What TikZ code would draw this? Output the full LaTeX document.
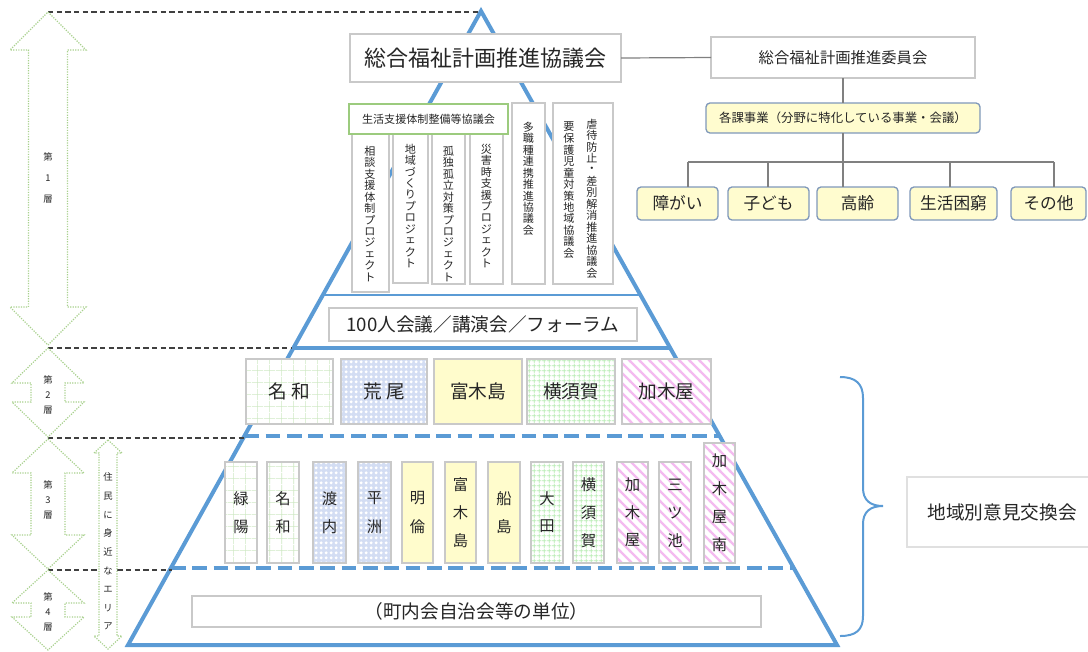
\documentclass[tikz,border=0pt]{standalone}
\usepackage{fontspec}
\setmainfont{Noto Sans CJK JP}
\usetikzlibrary{calc,patterns}
\definecolor{pblue}{HTML}{5B9BD5}
\definecolor{agreen}{HTML}{A9D18E}
\definecolor{bgray}{HTML}{C9C9C9}
\definecolor{tcol}{HTML}{262626}
\definecolor{cborder}{HTML}{7F98BA}
\definecolor{cyel}{HTML}{FFFCCF}
\definecolor{lgray}{HTML}{808080}
\definecolor{gA}{HTML}{CFE8C4}
\definecolor{gB}{HTML}{B9EDB4}
\definecolor{dotbg}{HTML}{D3DDF3}
\definecolor{pink1}{HTML}{F4BBF0}
\definecolor{yel}{HTML}{FFFCCC}
\definecolor{sgreen}{HTML}{9CCB7E}
\pgfdeclarepatternformonly{cgrid}{\pgfpointorigin}{\pgfqpoint{9pt}{9pt}}{\pgfqpoint{9pt}{9pt}}{%
  \pgfsetlinewidth{0.5pt}%
  \pgfpathmoveto{\pgfqpoint{4.5pt}{0pt}}\pgfpathlineto{\pgfqpoint{4.5pt}{9pt}}%
  \pgfpathmoveto{\pgfqpoint{0pt}{4.5pt}}\pgfpathlineto{\pgfqpoint{9pt}{4.5pt}}%
  \pgfusepath{stroke}}
\pgfdeclarepatternformonly{fgrid}{\pgfpointorigin}{\pgfqpoint{3.5pt}{3.5pt}}{\pgfqpoint{3.5pt}{3.5pt}}{%
  \pgfsetlinewidth{0.5pt}%
  \pgfpathmoveto{\pgfqpoint{1.75pt}{0pt}}\pgfpathlineto{\pgfqpoint{1.75pt}{3.5pt}}%
  \pgfpathmoveto{\pgfqpoint{0pt}{1.75pt}}\pgfpathlineto{\pgfqpoint{3.5pt}{1.75pt}}%
  \pgfusepath{stroke}}
\pgfdeclarepatternformonly{pdots}{\pgfpointorigin}{\pgfqpoint{3.8pt}{3.8pt}}{\pgfqpoint{3.8pt}{3.8pt}}{%
  \pgfpathcircle{\pgfqpoint{1.9pt}{1.9pt}}{1.45pt}\pgfusepath{fill}}
\pgfdeclarepatternformonly{pstripes}{\pgfqpoint{-1pt}{-1pt}}{\pgfqpoint{8.5pt}{8.5pt}}{\pgfqpoint{7.5pt}{7.5pt}}{%
  \pgfsetlinewidth{1.8pt}%
  \pgfpathmoveto{\pgfqpoint{-1pt}{8.5pt}}\pgfpathlineto{\pgfqpoint{8.5pt}{-1pt}}%
  \pgfusepath{stroke}}
\makeatletter
\newcommand\vt[2][1em]{\vbox{\offinterlineskip\@tfor\vt@c:=#2\do{\hbox to 1.2em{\hss\vbox to #1{\vss\hbox{\vt@c}\vss}\hss}}}}
\makeatother
\newcommand\fsz[1]{\fontsize{#1}{#1}\selectfont}
\newcommand\bx[7][]{\node[inner sep=0pt, outer sep=0pt, minimum width={(#4-#2)*0.75pt}, minimum height={(#5-#3)*0.75pt}, #1] (#6) at ({(#2+#4)/2},{(#3+#5)/2}) {#7};}
\newcommand\dbl[6]{\draw[arr] (#1,#2) -- ({#1+#5},{#2+#4}) -- ({#1+#6},{#2+#4}) -- ({#1+#6},{#3-#4}) -- ({#1+#5},{#3-#4}) -- (#1,#3) -- ({#1-#5},{#3-#4}) -- ({#1-#6},{#3-#4}) -- ({#1-#6},{#2+#4}) -- ({#1-#5},{#2+#4}) -- cycle;}
\begin{document}
\begin{tikzpicture}[x=0.75pt,y=-0.75pt,
  pyr/.style={draw=pblue, line width=3pt, line join=miter},
  arr/.style={draw=agreen, densely dotted, line width=0.9pt, fill=white},
  ldash/.style={draw=black!75, line width=0.8pt, dash pattern=on 4pt off 2.5pt},
  box/.style={draw=bgray, line width=1pt, fill=white, text=tcol},
  lbox/.style={draw=bgray, line width=1.3pt, text=tcol},
  cat/.style={draw=cborder, line width=1pt, fill=cyel, rounded corners=3pt, text=tcol},
  oline/.style={draw=lgray, line width=0.9pt},
  vtxt/.style={inner sep=0pt, text=tcol},
  pgridA/.style={preaction={fill=white}, pattern=cgrid, pattern color=gA},
  pgridB/.style={preaction={fill=white}, pattern=fgrid, pattern color=gB},
  pdot/.style={preaction={fill=dotbg}, pattern=pdots, pattern color=white},
  pstr/.style={preaction={fill=white}, pattern=pstripes, pattern color=pink1},
  pyel/.style={fill=yel}]
\useasboundingbox (0,0) rectangle (1088,651);
\clip (0,0) rectangle (1088,651);
% pyramid
\coordinate (A) at (481,11);
\coordinate (BL) at (128,645);
\coordinate (BR) at (837,645);
\draw[pyr] (A) -- (BL) -- (BR) -- cycle;
\draw[pyr, line width=1pt] ($(A)!0.448!(BL)$) -- ($(A)!0.448!(BR)$);
\draw[pyr] ($(A)!0.5315!(BL)$) -- ($(A)!0.5315!(BR)$);
\draw[pyr, dash pattern=on 11pt off 5pt] ($(A)!0.6703!(BL)$) -- ($(A)!0.6703!(BR)$);
\draw[pyr, dash pattern=on 11pt off 5pt] ($(A)!0.8785!(BL)$) -- ($(A)!0.8785!(BR)$);
% left guide lines
\draw[ldash] (48,12) -- (478,12);
\draw[ldash] (48,348) -- (292,348);
\draw[ldash] (48,438) -- (244,438);
\draw[ldash] (48,570) -- (172,570);
% layer arrows
\dbl{48}{12}{345}{38}{38}{19.5}
\dbl{48}{348}{437}{35}{36}{17}
\dbl{48}{439}{569}{34}{36}{17}
\dbl{48}{570}{650}{33}{36}{17}
\dbl{108}{440}{649}{13}{14}{9}
\node[vtxt, font=\fsz{7}] (l1) at (48,178) {\vt[16pt]{第1層}};
\node[vtxt, font=\fsz{7}] (l2) at (48,395) {\vt[11pt]{第2層}};
\node[vtxt, font=\fsz{7}] (l3) at (48,500) {\vt[11pt]{第3層}};
\node[vtxt, font=\fsz{7}] (l4) at (48,612) {\vt[11pt]{第4層}};
\node[vtxt, font=\fsz{7}] (jumin) at (108,552) {\vt[14pt]{住民に身近なエリア}};
% top boxes
\bx[box, font=\fsz{16.5}]{350}{34}{621}{82}{kyo}{総合福祉計画推進協議会}
\bx[box, font=\fsz{11.5}]{711}{37}{975}{78}{iin}{総合福祉計画推進委員会}
\bx[cat, font=\fsz{9.3}]{706}{103}{980}{133}{kaka}{各課事業（分野に特化している事業・会議）}
\bx[cat, font=\fsz{12.5}]{637}{187}{718}{220}{shogai}{障がい}
\bx[cat, font=\fsz{12.5}]{728}{187}{809}{220}{kodomo}{子ども}
\bx[cat, font=\fsz{12.5}]{817}{187}{898}{220}{korei}{高齢}
\bx[cat, font=\fsz{12.5}]{910}{187}{997}{220}{konkyu}{生活困窮}
\bx[cat, font=\fsz{12.5}]{1011}{187}{1086}{220}{sonota}{その他}
\coordinate (bus1) at (688,162);
\coordinate (bus2) at (768,162);
\coordinate (bus4) at (950,162);
\coordinate (bus5) at (1054,162);
\draw[oline] (kyo.east) -- (iin.west);
\draw[oline] (iin.south) -- (kaka.north);
\draw[oline] (kaka.south) -- (kaka.south |- korei.north);
\draw[oline] (bus1) -- (bus5);
\draw[oline] (bus1) -- (bus1 |- shogai.north);
\draw[oline] (bus2) -- (bus2 |- kodomo.north);
\draw[oline] (bus4) -- (bus4 |- konkyu.north);
\draw[oline] (bus5) -- (bus5 |- sonota.north);
% project boxes
\bx[box]{352}{134}{389}{292}{p1}{}
\bx[box]{393}{134}{428}{283}{p2}{}
\bx[box]{432}{134}{465}{284}{p3}{}
\bx[box]{470}{134}{503}{284}{p4}{}
\bx[box]{512}{103}{545}{284}{p5}{}
\bx[box]{553}{103}{613}{284}{p6}{}
\bx[box, draw=sgreen, font=\fsz{8.3}]{349}{104}{508}{134}{seikatsu}{生活支援体制整備等協議会}
\node[vtxt, anchor=north, font=\fsz{8.3}] (t1) at (370,145) {\vt[8.6pt]{相談支援体制プロジェクト}};
\node[vtxt, anchor=north, font=\fsz{8.3}] (t2) at (410.5,143) {\vt[8.6pt]{地域づくりプロジェクト}};
\node[vtxt, anchor=north, font=\fsz{8.3}] (t3) at (448.5,145) {\vt[8.6pt]{孤独孤立対策プロジェクト}};
\node[vtxt, anchor=north, font=\fsz{8.3}] (t4) at (486.5,143) {\vt[8.6pt]{災害時支援プロジェクト}};
\node[vtxt, anchor=north, font=\fsz{8.3}] (t5) at (528.5,121) {\vt[8.6pt]{多職種連携推進協議会}};
\node[vtxt, anchor=north, font=\fsz{8.3}] (t6a) at (592,118) {\vt[8.6pt]{虐待防止・差別解消推進協議会}};
\node[vtxt, anchor=north, font=\fsz{8.3}] (t6b) at (569,121) {\vt[8.6pt]{要保護児童対策地域協議会}};
\bx[box, font=\fsz{14}]{329}{308}{637}{341}{forum}{100人会議／講演会／フォーラム}
% layer 2
\bx[lbox, pgridA, font=\fsz{14}]{246}{359}{333}{424}{nawa2}{名 和}
\bx[lbox, pdot, font=\fsz{14}]{341}{359}{427}{424}{arao2}{荒 尾}
\bx[lbox, pyel, font=\fsz{14}]{434}{359}{522}{424}{tomiki2}{富木島}
\bx[lbox, pgridB, font=\fsz{14}]{527}{359}{615}{424}{yokosuka2}{横須賀}
\bx[lbox, pstr, font=\fsz{14}]{622}{359}{711}{424}{kagiya2}{加木屋}
% layer 3
\bx[lbox, pgridA, font=\fsz{11.5}]{225}{462}{257}{563}{q1}{\vt[21pt]{緑陽}}
\bx[lbox, pgridA, font=\fsz{11.5}]{267}{462}{299}{563}{q2}{\vt[21pt]{名和}}
\bx[lbox, pdot, font=\fsz{11.5}]{313}{462}{346}{563}{q3}{\vt[21pt]{渡内}}
\bx[lbox, pdot, font=\fsz{11.5}]{358}{462}{391}{563}{q4}{\vt[21pt]{平洲}}
\bx[lbox, pyel, font=\fsz{11.5}]{402}{462}{433}{563}{q5}{\vt[21pt]{明倫}}
\bx[lbox, pyel, font=\fsz{11.5}]{445}{462}{476}{563}{q6}{\vt[21pt]{富木島}}
\bx[lbox, pyel, font=\fsz{11.5}]{488}{462}{520}{563}{q7}{\vt[21pt]{船島}}
\bx[lbox, pgridB, font=\fsz{11.5}]{531}{462}{563}{563}{q8}{\vt[21pt]{大田}}
\bx[lbox, pgridB, font=\fsz{11.5}]{573}{462}{604}{563}{q9}{\vt[21pt]{横須賀}}
\bx[lbox, pstr, font=\fsz{11.5}]{617}{462}{648}{563}{q10}{\vt[21pt]{加木屋}}
\bx[lbox, pstr, font=\fsz{11.5}]{659}{462}{691}{563}{q11}{\vt[21pt]{三ツ池}}
\bx[lbox, pstr, font=\fsz{11.5}]{704}{443}{735}{563}{q12}{\vt[21pt]{加木屋南}}
% layer 4
\bx[box, font=\fsz{14}]{192}{596}{761}{627}{unit}{（町内会自治会等の単位）}
% brace and regional meeting
\draw[pblue, line width=1.5pt] (840,377) .. controls (856,377) and (863,384) .. (863,398) -- (863,488) .. controls (863,500) and (870,506) .. (883,506) .. controls (870,506) and (863,512) .. (863,524) -- (863,616) .. controls (863,630) and (856,636) .. (840,636);
\bx[box, draw=black!12, font=\fsz{14}]{907}{477}{1100}{547}{chiiki}{}
\node[vtxt, font=\fsz{14}] (chiikit) at (1002,512) {地域別意見交換会};
\end{tikzpicture}
\end{document}
